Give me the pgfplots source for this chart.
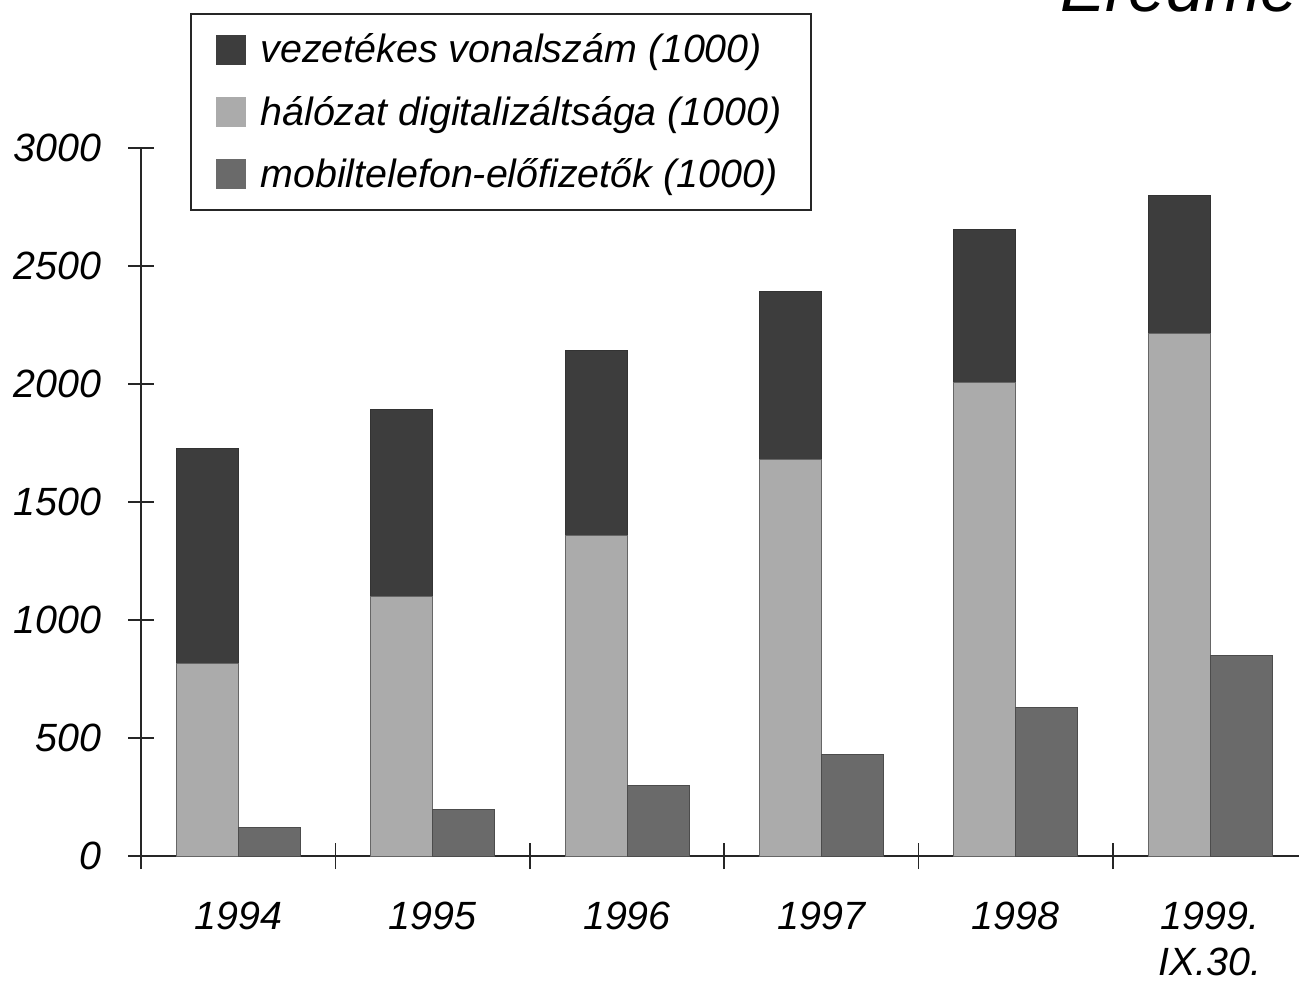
\documentclass[border=0pt]{standalone}
\usepackage{pgfplots}
\pgfplotsset{compat=1.18}
\usepackage{fontspec}
\setmainfont{Liberation Sans}
\definecolor{cdark}{HTML}{3D3D3D}
\definecolor{clight}{HTML}{ABABAB}
\definecolor{cmob}{HTML}{6A6A6A}
\begin{document}
\begin{tikzpicture}
\useasboundingbox (0,0) rectangle (649.5pt,493.5pt);
\node[anchor=base west, font=\itshape\fontsize{34}{40}\selectfont, inner sep=0pt] at (530pt,487.5pt) {Eredmények};
\begin{axis}[
  at={(70.5pt,65.5pt)}, anchor=south west,
  scale only axis, width=583.2pt, height=354pt,
  xmin=-0.5, xmax=5.5, ymin=0, ymax=3000,
  axis x line*=bottom, axis y line*=left,
  axis line style={-, line width=0.8pt, black!85},
  tick style={line width=0.8pt, black!85},
  tick align=center, major tick length=13pt,
  ytick={0,500,...,3000},
  xtick={-0.5,0.5,...,5.5},
  x tick label as interval,
  xticklabels={1994,1995,1996,1997,1998,{1999.\\IX.30.}},
  xticklabel style={align=center, yshift=-13pt},
  yticklabel style={xshift=-10pt},
  ticklabel style={font=\itshape\fontsize{19.7}{23}\selectfont},
  /pgf/number format/assume math mode=true,
  /pgf/number format/1000 sep={},
  legend image code/.code={\path[#1, draw=none] (0pt,-7.5pt) rectangle (15pt,7.5pt); \path (20pt,0pt);},
  legend cell align=left,
  legend style={at={(0.042,1.1907)}, anchor=north west, draw=black!85, line width=1pt,
    font=\itshape\fontsize{19.7}{23}\selectfont, inner xsep=12.5pt, inner ysep=8pt, row sep=11pt},
]
\addplot[ybar, bar width=31pt, bar shift=-15.5pt, fill=cdark, draw=black!80, line width=0.5pt]
  coordinates {(0,1725) (1,1890) (2,2140) (3,2390) (4,2655) (5,2800)};
\addplot[ybar, bar width=31pt, bar shift=-15.5pt, fill=clight, draw=black!60, line width=0.5pt]
  coordinates {(0,814) (1,1100) (2,1358) (3,1680) (4,2005) (5,2215)};
\addplot[ybar, bar width=31pt, bar shift=15.5pt, fill=cmob, draw=black!70, line width=0.5pt]
  coordinates {(0,120) (1,198) (2,300) (3,430) (4,630) (5,850)};
\legend{vezetékes vonalszám (1000), hálózat digitalizáltsága (1000), mobiltelefon-előfizetők (1000)}
\draw[line width=0.8pt, black!85] (axis cs:-0.57,0) -- (axis cs:-0.5,0);
\end{axis}
\end{tikzpicture}
\end{document}
